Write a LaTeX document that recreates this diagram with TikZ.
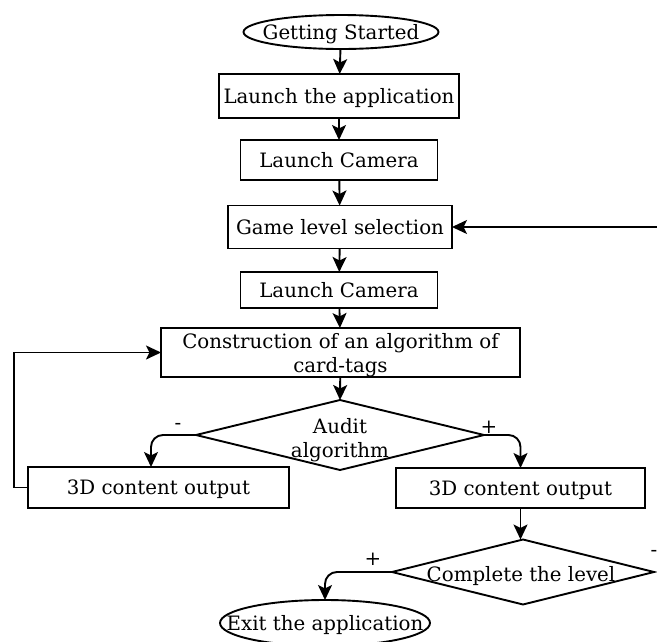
\documentclass[tikz,border=0pt]{standalone}
\usepackage{fontspec}
\setmainfont{DejaVu Serif}
\usetikzlibrary{shapes.geometric,arrows.meta}
\begin{document}
\begin{tikzpicture}[x=1pt,y=-1pt,
  font=\fontsize{19.8}{24}\selectfont,
  every node/.style={inner sep=0pt,outer sep=0pt},
  txt/.style={text height=19pt,text depth=4.5pt},
  box/.style={draw,line width=1.9pt,rectangle,align=center},
  term/.style={draw,line width=1.9pt,ellipse},
  conn/.style={line width=1.9pt,-{Stealth[length=15pt,width=14pt,inset=3.5pt]}},
  lbl/.style={font=\fontsize{19.8}{24}\selectfont}]
\useasboundingbox (0,0) rectangle (657,641);
\node[term,minimum width=195pt,minimum height=34pt] (gs) at (341,32) {};
\node[txt] (gst) at (341,32) {Getting Started};
\node[box,txt,minimum width=240pt,minimum height=44pt] (la) at (339,96) {Launch the application};
\node[box,txt,minimum width=197pt,minimum height=40pt] (lc1) at (339,160) {Launch Camera};
\node[box,txt,minimum width=224pt,minimum height=43pt] (gls) at (340,227) {Game level selection};
\node[box,txt,minimum width=197pt,minimum height=36pt] (lc2) at (339,290) {Launch Camera};
\node[box,minimum width=359pt,minimum height=49pt] (cons) at (340.5,352.5) {};
\node[align=center] (const) at (340.5,355) {Construction of an algorithm of\\card-tags};
\node[draw,line width=1.9pt,shape=diamond,minimum width=288pt,minimum height=70pt,inner sep=0pt] (aud) at (340,435) {};
\node[align=center] (audt) at (340,440) {Audit\\algorithm};
\node[box,txt,minimum width=261pt,minimum height=41pt] (lb) at (158.5,487.5) {3D content output};
\node[box,txt,minimum width=249pt,minimum height=40pt] (rb) at (520.5,488) {3D content output};
\node[draw,line width=1.9pt,shape=diamond,minimum width=262pt,minimum height=65pt] (cl) at (523,572) {};
\node[txt] (clt) at (521,574) {Complete the level};
\node[term,minimum width=210pt,minimum height=46pt] (ex) at (325,623) {};
\node[txt] (ext) at (325,623) {Exit the application};
\coordinate (rin) at (660,227);
\coordinate (lbtop) at (151,467);
\coordinate (loopx) at (14,487.5);
\node[lbl] (m1) at (178,426) {-};
\node[lbl] (p1) at (489,427) {+};
\node[lbl] (p2) at (373,559) {+};
\node[lbl] (m2) at (654,553) {-};
\draw[conn] (gs) -- (la);
\draw[conn] (la) -- (lc1);
\draw[conn] (lc1) -- (gls);
\draw[conn] (rin) -- (gls.east);
\draw[conn] (gls) -- (lc2);
\draw[conn] (lc2) -- (cons);
\draw[conn] (cons) -- (aud.north);
\draw[conn,rounded corners=12pt] (aud.west) -| (lbtop);
\draw[conn,rounded corners=12pt] (aud.east) -| (rb.north);
\draw[conn] (lb.west) -- (loopx) |- (cons.west);
\draw[conn] (rb.south) -- (rb.south |- cl.north);
\draw[conn,rounded corners=12pt] (cl.west) -| (ex.north);
\end{tikzpicture}
\end{document}
